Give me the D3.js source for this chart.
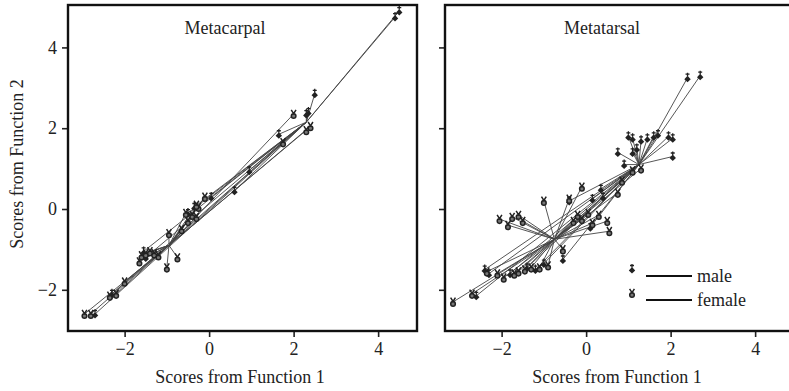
<!DOCTYPE html>
<html>
<head>
<meta charset="utf-8">
<script src="https://cdn.jsdelivr.net/npm/d3@7"></script>
<style>
  body { margin: 0; background: #fff; }
  text { font-family: "Liberation Serif", "DejaVu Serif", serif; fill: #222; }
</style>
</head>
<body>
<svg id="chart" width="789" height="391"></svg>
<script>
// tick values shared by both panels
const xTicks = [-2, 0, 2, 4];
const yTicks = [-2, 0, 2, 4];
const panelTitles = ["Metacarpal", "Metatarsal"];

// Metacarpal: group centroids and individual scores
const carpalMaleCentroid = [2.3, 2.15];
const carpalFemaleCentroid = [-0.95, -0.9];
const carpalMaleX = [4.5, 4.4, 2.5, 2.35, 2.3, 1.65, 0.95, 0.6, 0.05, -0.35, -2.7, -2.3, -1.5, -0.5, -1.55];
const carpalMaleY = [4.9, 4.75, 2.85, 2.4, 2.35, 1.85, 0.95, 0.45, 0.3, 0.05, -2.6, -2.1, -1.2, -0.1, -1.05];
const carpalFemaleX = [2.0, 2.4, 2.3, 1.75, -2.95, -2.8, -2.35, -2.2, -2.0, -1.65, -1.6, -1.5, -1.4, -1.3,
  -1.2, -0.95, -0.75, -1.0, -0.65, -0.5, -0.4, -0.3, -0.25, -0.1, -0.3, -0.55];
const carpalFemaleY = [2.35, 2.05, 1.95, 1.65, -2.6, -2.6, -2.15, -2.1, -1.8, -1.3, -1.15, -1.1, -1.05, -1.1,
  -1.15, -0.6, -1.2, -1.45, -0.5, -0.3, -0.15, -0.2, 0.05, 0.3, 0.1, -0.1];

// Metatarsal
const tarsalMaleCentroid = [1.25, 1.1];
const tarsalFemaleCentroid = [-0.75, -0.75];
const tarsalMaleX = [2.4, 2.7, 1.0, 1.1, 1.3, 1.45, 1.6, 1.7, 1.95, 2.05, 2.05, 0.75, 0.9, 1.1, 1.2,
  0.4, 0.35, 0.15, -0.4, -2.4, -2.6, -1.4, -1.0, -2.3, -1.8, -1.2, -0.55, 0.1];
const tarsalMaleY = [3.25, 3.3, 1.8, 1.75, 1.7, 1.75, 1.8, 1.85, 1.8, 1.75, 1.3, 1.4, 1.1, 1.4, 1.5,
  0.3, 0.5, 0.25, 0.2, -1.5, -2.15, -1.45, -1.35, -1.6, -1.6, -1.5, -1.25, -0.45];
const tarsalFemaleX = [-1.0, -0.4, -0.1, -1.6, -1.5, -1.85, -2.05, -1.75, -2.35, -2.1, -1.95, -1.7, -1.6,
  -1.45, -1.3, -1.1, -0.9, -0.55, -3.15, -2.7, 0.05, 0.3, 0.5, 0.15, -0.2, 0.85, 0.75, -0.1, -0.3, 0.55, 1.1, 1.3];
const tarsalFemaleY = [0.2, 0.25, 0.55, -0.15, -0.3, -0.4, -0.25, -0.2, -1.55, -1.6, -1.7, -1.6, -1.55,
  -1.5, -1.45, -1.45, -1.4, -1.0, -2.3, -2.1, -0.1, -0.15, -0.3, -0.35, -0.15, 0.7, 0.4, -0.25, -0.3, -0.55, 0.95, 1.0];

const legendLabels = ["male", "female"];

const panels = [
  { title: panelTitles[0], left: 68, mc: carpalMaleCentroid, fc: carpalFemaleCentroid,
    mx: carpalMaleX, my: carpalMaleY, fx: carpalFemaleX, fy: carpalFemaleY, yLabels: true },
  { title: panelTitles[1], left: 445, mc: tarsalMaleCentroid, fc: tarsalFemaleCentroid,
    mx: tarsalMaleX, my: tarsalMaleY, fx: tarsalFemaleX, fy: tarsalFemaleY, yLabels: false, legend: true }
];

const svg = d3.select("#chart");
const plotTop = 5, plotHeight = 326, plotWidth = 349;
const ink = "#222";
const fontSize = 18;

// male: filled blob with a small cross on top, female: dark ring with fork
function maleGlyph(g) {
  g.append("path").attr("d", "M0,-2L3.2,1.5L0,4.5L-3.2,1.5Z").attr("fill", ink);
  g.append("path").attr("d", "M0,-1.5V-5M-2,-3.5H2").attr("stroke", ink).attr("stroke-width", 1.3);
}
function femaleGlyph(g) {
  g.append("circle").attr("cy", 2).attr("r", 2.3).attr("fill", "#777").attr("stroke", ink).attr("stroke-width", 1.5);
  g.append("path").attr("d", "M-2.4,-4.2L0,-0.4L2.4,-4.2").attr("fill", "none").attr("stroke", ink).attr("stroke-width", 1.5);
}

panels.forEach((p, i) => {
  const x = d3.scaleLinear().domain([-3.34, 4.92]).range([p.left, p.left + plotWidth]);
  const y = d3.scaleLinear().domain([-3.02, 5.05]).range([plotTop + plotHeight, plotTop]);

  const g = svg.append("g");
  g.append("clipPath").attr("id", "clip" + i)
    .append("rect").attr("x", p.left).attr("y", plotTop).attr("width", plotWidth).attr("height", plotHeight);

  const plot = g.append("g").attr("clip-path", `url(#clip${i})`);

  const male = p.mx.map((v, k) => ({ x: v, y: p.my[k], c: p.mc }));
  const female = p.fx.map((v, k) => ({ x: v, y: p.fy[k], c: p.fc }));
  const all = male.concat(female);

  plot.selectAll("line.ray").data(all).enter().append("line")
    .attr("class", "ray")
    .attr("x1", d => x(d.x)).attr("y1", d => y(d.y))
    .attr("x2", d => x(d.c[0])).attr("y2", d => y(d.c[1]))
    .attr("stroke", "#444").attr("stroke-width", 0.9);

  plot.selectAll("g.m").data(male).enter().append("g")
    .attr("class", "m")
    .attr("transform", d => `translate(${x(d.x)},${y(d.y)})`)
    .each(function () { maleGlyph(d3.select(this)); });

  plot.selectAll("g.f").data(female).enter().append("g")
    .attr("class", "f")
    .attr("transform", d => `translate(${x(d.x)},${y(d.y)})`)
    .each(function () { femaleGlyph(d3.select(this)); });

  // axes
  const xAxis = g.append("g").attr("transform", `translate(0,${plotTop + plotHeight})`)
    .call(d3.axisBottom(x).tickValues(xTicks).tickSize(6).tickPadding(5).tickFormat(d3.format("d")));
  const yAxis = g.append("g").attr("transform", `translate(${p.left},0)`)
    .call(d3.axisLeft(y).tickValues(yTicks).tickSize(6).tickPadding(5)
      .tickFormat(p.yLabels ? d3.format("d") : ""));
  [xAxis, yAxis].forEach(a => {
    a.select(".domain").remove();
    a.selectAll("line").attr("stroke", ink).attr("stroke-width", 1.6);
    a.selectAll("text").attr("font-size", fontSize).attr("font-family", "Liberation Serif").attr("fill", "#222");
  });

  g.append("rect").attr("x", p.left).attr("y", plotTop).attr("width", plotWidth).attr("height", plotHeight)
    .attr("fill", "none").attr("stroke", "#111").attr("stroke-width", 2.4);

  g.append("text").attr("x", p.left + 157).attr("y", 34).attr("text-anchor", "middle")
    .attr("font-size", fontSize).text(p.title);

  g.append("text").attr("x", p.left + 172).attr("y", 383).attr("text-anchor", "middle")
    .attr("font-size", fontSize).text("Scores from Function 1");

  if (p.legend) {
    const lg = g.append("g");
    legendLabels.forEach((lab, k) => {
      const ly = 276 + k * 24;
      const s = lg.append("g").attr("transform", `translate(632,${ly - 7})`);
      if (k === 0) maleGlyph(s); else femaleGlyph(s);
      lg.append("line").attr("x1", 646).attr("x2", 692).attr("y1", ly).attr("y2", ly)
        .attr("stroke", "#111").attr("stroke-width", 1.8);
      lg.append("text").attr("x", 697).attr("y", ly + 6).attr("font-size", fontSize).text(lab);
    });
  }
});

svg.append("text").attr("transform", "translate(23,164) rotate(-90)")
  .attr("text-anchor", "middle").attr("font-size", fontSize).text("Scores from Function 2");
</script>
</body>
</html>
